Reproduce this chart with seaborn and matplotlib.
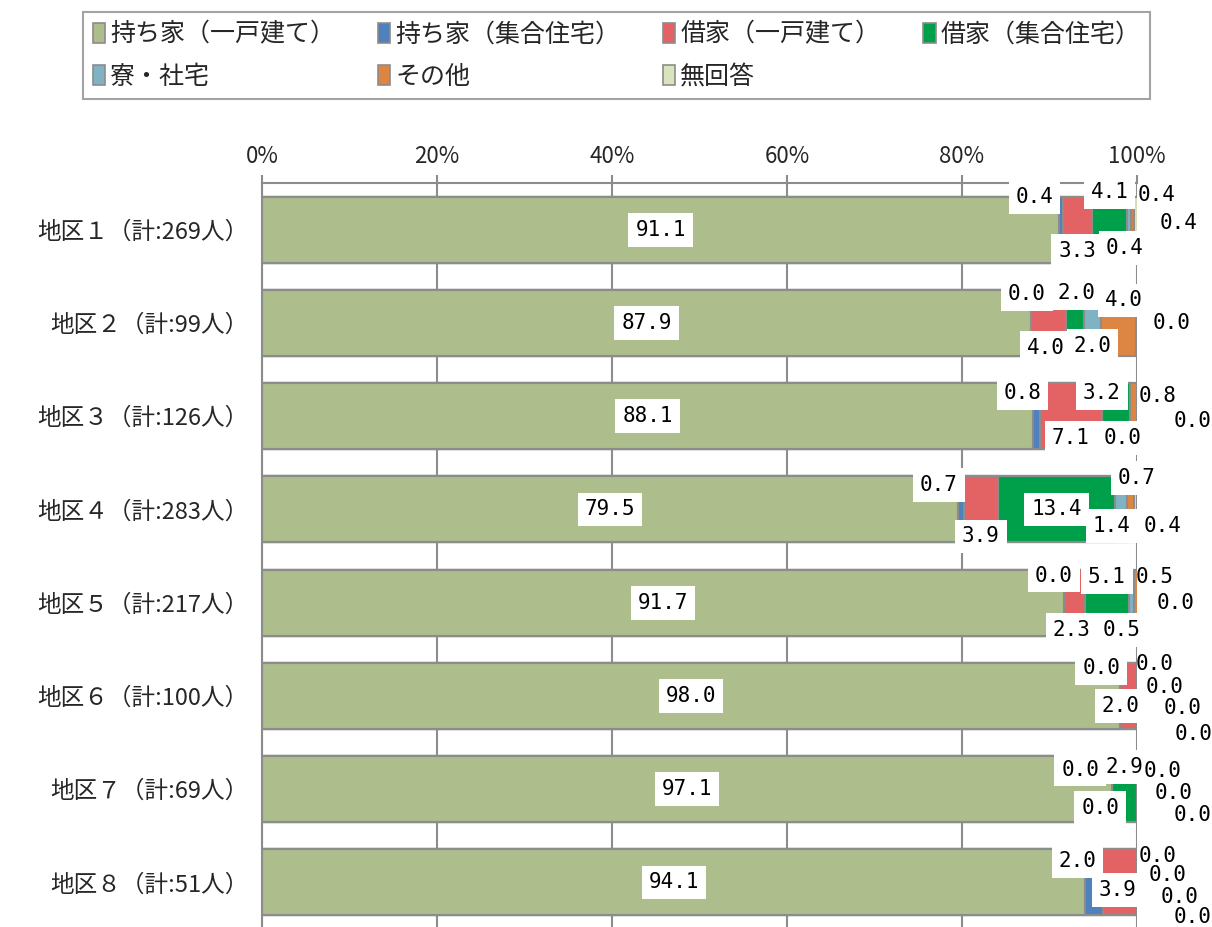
import matplotlib
matplotlib.use("Agg")
import matplotlib.pyplot as plt
import seaborn as sns
import numpy as np
import pandas as pd
from matplotlib.patches import Patch

# ---------------- data ----------------
regions = ["地区１（計:269人）", "地区２（計:99人）", "地区３（計:126人）", "地区４（計:283人）",
           "地区５（計:217人）", "地区６（計:100人）", "地区７（計:69人）", "地区８（計:51人）"]
series = ["持ち家（一戸建て）", "持ち家（集合住宅）", "借家（一戸建て）", "借家（集合住宅）",
          "寮・社宅", "その他", "無回答"]
own_house = [91.1, 87.9, 88.1, 79.5, 91.7, 98.0, 97.1, 94.1]
own_apt = [0.4, 0.0, 0.8, 0.7, 0.0, 0.0, 0.0, 2.0]
rent_house = [3.3, 4.0, 7.1, 3.9, 2.3, 2.0, 0.0, 3.9]
rent_apt = [4.1, 2.0, 3.2, 13.4, 5.1, 0.0, 2.9, 0.0]
dorm = [0.4, 2.0, 0.0, 1.4, 0.5, 0.0, 0.0, 0.0]
other = [0.4, 4.0, 0.8, 0.7, 0.5, 0.0, 0.0, 0.0]
no_answer = [0.4, 0.0, 0.0, 0.4, 0.0, 0.0, 0.0, 0.0]
tick_values = [0, 20, 40, 60, 80, 100]
tick_labels = ["0%", "20%", "40%", "60%", "80%", "100%"]

# ---------------- styles / layout ----------------
colors = ["#ADBD8B", "#4F81BD", "#E36364", "#00A04A", "#7FB2C3", "#DD8542", "#D8E4BC"]
edge = "#8C8C8C"
# label offsets relative to segment centre: dx in %, dy in category units
label_dx = [
    [0, -3.0, 0.0, 0.0, -0.5, 2.7, 4.8],
    [0, -0.5, -0.3, 0.2, 0.0, 0.6, 4.0],
    [0, -1.6, 0.0, -1.6, -0.9, 2.8, 6.4],
    [0, -2.5, 0.0, 0.0, -1.1, 0.7, 3.1],
    [0, -1.2, -0.3, 0.0, -1.1, 2.2, 4.3],
    [0, -2.1, -0.9, 2.0, 3.2, 5.2, 6.5],
    [0, -3.6, -1.3, 0.0, 2.9, 4.2, 6.4],
    [0, -1.9, -0.3, 2.3, 3.5, 4.9, 6.4],
]
label_dy = [
    [0, -0.35, 0.225, -0.40, 0.20, -0.375, -0.075],
    [0, -0.31, 0.27, -0.32, 0.25, -0.24, 0.0],
    [0, -0.25, 0.235, -0.25, 0.235, -0.22, 0.05],
    [0, -0.26, 0.29, 0.0, 0.18, -0.34, 0.18],
    [0, -0.29, 0.29, -0.27, 0.29, -0.28, 0.0],
    [0, -0.30, 0.11, -0.34, -0.10, 0.13, 0.41],
    [0, -0.21, 0.20, -0.24, -0.19, 0.04, 0.28],
    [0, -0.23, 0.08, -0.28, -0.08, 0.16, 0.37],
]

sns.set_style("white")
plt.rcParams["font.family"] = ["Noto Sans CJK JP", "DejaVu Sans"]

values = np.array([own_house, own_apt, rent_house, rent_apt, dorm, other, no_answer])
cum = np.cumsum(values, axis=0)
df = pd.DataFrame({"region": regions})
for k, s in enumerate(series):
    df[s] = cum[k]

fig = plt.figure(figsize=(12.12, 9.27), dpi=100)
ax = fig.add_axes([262 / 1212, 1 - 929 / 927, 875 / 1212, (929 - 183) / 927])

# stacked bars: draw cumulative totals from last to first
for k in range(len(series) - 1, -1, -1):
    sns.barplot(data=df, x=series[k], y="region", orient="h", color=colors[k],
                saturation=1, width=0.71, edgecolor=edge, linewidth=1.5,
                errorbar=None, ax=ax, zorder=2)

ax.set_xlim(0, 100)
ax.set_ylim(7.5, -0.5)
ax.set_xlabel("")
ax.set_ylabel("")
ax.xaxis.tick_top()
ax.set_xticks(tick_values)
ax.set_xticklabels(tick_labels, fontsize=16)
ax.tick_params(axis="x", which="major", direction="out", length=6, width=1.5,
               color=edge, pad=5, top=True, bottom=False)
ax.set_yticks(range(len(regions)))
ax.set_yticklabels(regions, fontsize=17)
ax.tick_params(axis="y", which="major", length=0, pad=10)
ax.set_yticks(np.arange(-0.5, len(regions) - 0.5, 1), minor=True)
ax.tick_params(axis="y", which="minor", direction="out", length=6, width=1.5, color=edge)
ax.set_axisbelow(True)
ax.xaxis.grid(True, color=edge, linewidth=1.5)
ax.yaxis.grid(False)
for side in ["right", "bottom"]:
    ax.spines[side].set_visible(False)
for side in ["top", "left"]:
    ax.spines[side].set_color(edge)
    ax.spines[side].set_linewidth(1.5)
ax.spines["top"].set_zorder(1)

# data labels
for i in range(len(regions)):
    for k in range(len(series)):
        centre = cum[k, i] - values[k, i] / 2
        x = centre + label_dx[i][k]
        y = i + label_dy[i][k]
        bbox = dict(facecolor="white", edgecolor="none", boxstyle="square,pad=0.33") if x < 101 else None
        ax.text(x, y, f"{values[k, i]:.1f}", ha="center", va="center", fontsize=15,
                family="DejaVu Sans Mono", color="black", bbox=bbox, clip_on=False, zorder=6 + k)

# legend (row-major order for 4 columns)
handles = [Patch(facecolor=colors[k], edgecolor=edge, linewidth=1.2) for k in range(len(series))]
order = [0, 4, 1, 5, 2, 6, 3]
leg = fig.legend([handles[k] for k in order], [series[k] for k in order],
                 loc="upper left", bbox_to_anchor=(83 / 1212, 1 - 12 / 927, (1150 - 83) / 1212, 0.0),
                 mode="expand", ncol=4, fontsize=18, frameon=True, fancybox=False,
                 handlelength=0.5, handleheight=0.85, handletextpad=0.2,
                 labelspacing=0.65, borderpad=0.38, borderaxespad=0, columnspacing=0.5)
leg.get_frame().set_edgecolor(edge)
leg.get_frame().set_linewidth(1.5)

fig.savefig("out.png", dpi=100)
